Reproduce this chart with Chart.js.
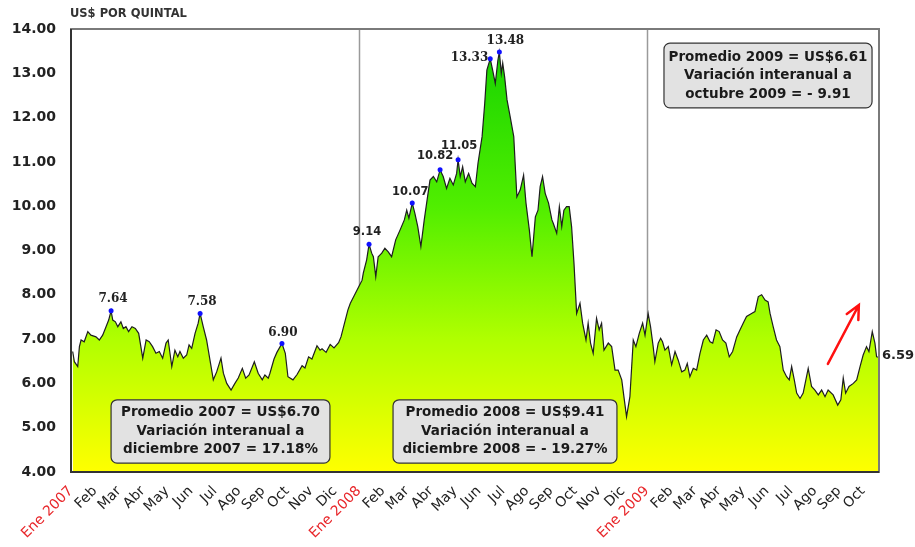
<!DOCTYPE html>
<html>
<head>
<meta charset="utf-8">
<script src="https://cdn.jsdelivr.net/npm/chart.js@4"></script>
<style>
  html, body { margin: 0; padding: 0; background: #fff; }
  #wrap { width: 915px; height: 547px; }
</style>
</head>
<body>
<div id="wrap"><canvas id="precioChart" width="915" height="547"></canvas></div>
<script>
// Precio diario, US$ por quintal (ene 2007 - oct 2009)
// meses: posicion en meses contados desde ene 2007
const meses = [
  0.07, 0.14, 0.28, 0.35, 0.42, 0.55, 0.70, 0.83, 1.04, 1.18, 1.32, 1.46, 1.57, 1.67, 1.74, 1.85, 1.95,
  2.08, 2.18, 2.29, 2.40, 2.54, 2.68, 2.82, 2.99, 3.13, 3.26, 3.40, 3.54, 3.68, 3.82, 3.96,
  4.05, 4.20, 4.33, 4.45, 4.54, 4.68, 4.82, 4.92, 5.03, 5.17, 5.30, 5.38, 5.51, 5.65, 5.79, 5.93,
  6.07, 6.25, 6.35, 6.49, 6.67, 6.83, 6.97, 7.14, 7.28, 7.42, 7.64, 7.80, 7.97,
  8.08, 8.22, 8.29, 8.46, 8.58, 8.79, 8.93, 9.04, 9.25, 9.42, 9.63, 9.75, 9.90,
  10.04, 10.25, 10.38, 10.46, 10.63, 10.80, 10.96, 11.15, 11.25, 11.36, 11.54, 11.64, 11.82, 11.99,
  12.13, 12.18, 12.32, 12.42, 12.53, 12.60, 12.70, 12.80, 12.95, 13.08, 13.22, 13.36, 13.53, 13.71, 13.89, 13.99,
  14.08, 14.22, 14.33, 14.45, 14.58, 14.72, 14.86, 14.96, 15.10, 15.24, 15.38, 15.51, 15.65, 15.79, 15.93,
  16.07, 16.13, 16.22, 16.32, 16.43, 16.57, 16.71, 16.85, 16.96, 17.13, 17.24, 17.33, 17.47, 17.57, 17.68, 17.79, 17.85, 17.93, 17.99,
  18.07, 18.17, 18.30, 18.45, 18.58, 18.72, 18.86, 18.96, 19.10, 19.21, 19.35, 19.46, 19.55, 19.65, 19.76, 19.90,
  20.04, 20.10, 20.24, 20.35, 20.45, 20.54, 20.65, 20.76, 20.86, 20.96, 21.07, 21.21, 21.32, 21.46, 21.55, 21.65, 21.76, 21.90,
  22.01, 22.11, 22.21, 22.39, 22.53, 22.67, 22.80, 22.95, 23.04, 23.15, 23.29, 23.43, 23.54, 23.68, 23.82, 23.92,
  24.05, 24.15, 24.26, 24.33, 24.47, 24.57, 24.65, 24.75, 24.89, 25.03, 25.17, 25.30, 25.45, 25.58, 25.68, 25.79, 25.93,
  26.07, 26.21, 26.35, 26.49, 26.63, 26.74, 26.88, 27.01, 27.15, 27.29, 27.43, 27.57, 27.74, 27.88,
  28.01, 28.15, 28.36, 28.50, 28.64, 28.78, 28.92, 29.05, 29.13, 29.26, 29.40, 29.54, 29.68, 29.82, 29.93,
  30.03, 30.14, 30.24, 30.38, 30.51, 30.72, 30.86, 31.00, 31.14, 31.28, 31.42, 31.55, 31.76, 31.95,
  32.08, 32.18, 32.28, 32.42, 32.60, 32.74, 32.88, 33.01, 33.15, 33.25, 33.39, 33.50, 33.57, 33.67
];
const precios = [
  6.72, 6.49, 6.38, 6.83, 6.98, 6.94, 7.17, 7.09, 7.05, 6.98, 7.09, 7.28, 7.43, 7.64, 7.43, 7.39, 7.28,
  7.39, 7.24, 7.28, 7.17, 7.28, 7.24, 7.13, 6.57, 6.98, 6.94, 6.83, 6.68, 6.72, 6.57, 6.91,
  6.98, 6.38, 6.75, 6.60, 6.72, 6.57, 6.64, 6.87, 6.79, 7.13, 7.36, 7.58, 7.28, 6.98, 6.53, 6.08,
  6.26, 6.57, 6.23, 6.00, 5.85, 6.00, 6.12, 6.34, 6.12, 6.19, 6.49, 6.23, 6.08,
  6.19, 6.12, 6.23, 6.55, 6.70, 6.90, 6.68, 6.15, 6.08, 6.20, 6.40, 6.35, 6.60,
  6.55, 6.85, 6.75, 6.78, 6.70, 6.88, 6.80, 6.92, 7.05, 7.28, 7.66, 7.81, 8.00, 8.18,
  8.33, 8.49, 8.79, 9.14, 8.94, 8.86, 8.41, 8.86, 8.94, 9.05, 8.97, 8.86, 9.24, 9.46, 9.69, 9.91,
  9.73, 10.07, 9.84, 9.54, 9.09, 9.69, 10.22, 10.59, 10.67, 10.55, 10.82, 10.67, 10.40, 10.63, 10.48,
  10.74, 11.05, 10.67, 10.89, 10.55, 10.74, 10.52, 10.44, 10.97, 11.57, 12.32, 13.07, 13.33, 13.07, 12.77, 13.30, 13.48, 13.00, 13.23,
  12.92, 12.40, 12.02, 11.57, 10.21, 10.37, 10.70, 10.07, 9.46, 8.86, 9.76, 9.91, 10.44, 10.67, 10.29, 10.07,
  9.69, 9.61, 9.39, 9.99, 9.54, 9.91, 9.99, 9.99, 9.54, 8.71, 7.58, 7.81, 7.36, 6.98, 7.36, 6.91, 6.68, 7.47,
  7.21, 7.36, 6.75, 6.91, 6.83, 6.30, 6.30, 6.08, 5.70, 5.25, 5.70, 6.98, 6.83, 7.13, 7.36, 7.09,
  7.58, 7.28, 6.83, 6.49, 6.91, 7.02, 6.94, 6.75, 6.83, 6.42, 6.72, 6.53, 6.26, 6.30, 6.45, 6.15, 6.34,
  6.30, 6.68, 6.98, 7.09, 6.94, 6.91, 7.21, 7.17, 6.98, 6.91, 6.60, 6.72, 7.05, 7.21,
  7.36, 7.51, 7.58, 7.62, 7.96, 8.00, 7.88, 7.84, 7.58, 7.28, 6.98, 6.83, 6.30, 6.15, 6.08,
  6.38, 6.08, 5.78, 5.66, 5.78, 6.34, 5.93, 5.85, 5.74, 5.85, 5.70, 5.85, 5.74, 5.51,
  5.63, 6.12, 5.78, 5.93, 6.00, 6.08, 6.38, 6.64, 6.83, 6.72, 7.17, 6.91, 6.60, 6.59
];

// Valores maximos destacados
const picos = [7.64, 7.58, 6.90, 9.14, 10.07, 10.82, 11.05, 13.33, 13.48];

const etiquetasMes = [
  'Ene 2007', 'Feb', 'Mar', 'Abr', 'May', 'Jun', 'Jul', 'Ago', 'Sep', 'Oct', 'Nov', 'Dic',
  'Ene 2008', 'Feb', 'Mar', 'Abr', 'May', 'Jun', 'Jul', 'Ago', 'Sep', 'Oct', 'Nov', 'Dic',
  'Ene 2009', 'Feb', 'Mar', 'Abr', 'May', 'Jun', 'Jul', 'Ago', 'Sep', 'Oct'
];
const ticksY = [4, 5, 6, 7, 8, 9, 10, 11, 12, 13, 14];

const notas = [
  { x0: 1.67, x1: 10.79, y0: 5.63, y1: 4.20,
    lineas: ['Promedio 2007 = US$6.70', 'Variación interanual a', 'diciembre 2007 = 17.18%'] },
  { x0: 13.42, x1: 22.75, y0: 5.63, y1: 4.20,
    lineas: ['Promedio 2008 = US$9.41', 'Variación interanual a', 'diciembre 2008 = - 19.27%'] },
  { x0: 24.71, x1: 33.38, y0: 13.68, y1: 12.22,
    lineas: ['Promedio 2009 = US$6.61', 'Variación interanual a', 'octubre 2009 = - 9.91'] }
];

const indicesPico = picos.map(v => precios.indexOf(v));

// offsets of peak labels relative to their dot
const serif = 'bold 12px "DejaVu Serif"';
const sans = 'bold 11.5px "DejaVu Sans"';
const posPico = [
  { dx: 2, dy: -12, font: serif, align: 'center' },
  { dx: 2, dy: -12, font: serif, align: 'center' },
  { dx: 1, dy: -11, font: serif, align: 'center' },
  { dx: -2, dy: -12, font: sans, align: 'center' },
  { dx: -2, dy: -11, font: sans, align: 'center' },
  { dx: -5, dy: -14, font: sans, align: 'center' },
  { dx: 1, dy: -14, font: sans, align: 'center' },
  { dx: -2, dy: -1, font: serif, align: 'right' },
  { dx: 6, dy: -11, font: serif, align: 'center' }
];

const decoracion = {
  id: 'decoracion',
  beforeDatasetsDraw(chart) {
    const { ctx, chartArea: ca, scales: { x } } = chart;
    ctx.save();
    ctx.strokeStyle = '#9a9a9a';
    ctx.lineWidth = 1.5;
    [12, 24].forEach(m => {
      const px = Math.round(x.getPixelForValue(m)) + 0.5;
      ctx.beginPath();
      ctx.moveTo(px, ca.top);
      ctx.lineTo(px, ca.bottom);
      ctx.stroke();
    });
    ctx.restore();
  },
  afterDatasetsDraw(chart) {
    const { ctx, chartArea: ca, scales: { x, y } } = chart;
    const meta = chart.getDatasetMeta(0);
    ctx.save();

    // plot border
    ctx.lineWidth = 2;
    ctx.strokeStyle = '#7a7a7a';
    ctx.strokeRect(ca.left, ca.top, ca.right - ca.left, ca.bottom - ca.top);
    ctx.strokeStyle = '#333';
    ctx.beginPath();
    ctx.moveTo(ca.left, ca.top);
    ctx.lineTo(ca.left, ca.bottom);
    ctx.lineTo(ca.right, ca.bottom);
    ctx.stroke();

    // peak labels
    ctx.fillStyle = '#222';
    ctx.textBaseline = 'middle';
    indicesPico.forEach((idx, i) => {
      const pt = meta.data[idx];
      const p = posPico[i];
      ctx.font = p.font;
      ctx.textAlign = p.align;
      ctx.fillText(picos[i].toFixed(2), pt.x + p.dx, pt.y + p.dy);
    });

    // last value
    const ult = meta.data[meta.data.length - 1];
    ctx.font = 'bold 13px "DejaVu Sans"';
    ctx.textAlign = 'left';
    ctx.fillText(precios[precios.length - 1].toFixed(2), ca.right + 3, ult.y - 2);

    // notes
    notas.forEach(n => {
      const l = x.getPixelForValue(n.x0), r = x.getPixelForValue(n.x1);
      const t = y.getPixelForValue(n.y0), b = y.getPixelForValue(n.y1);
      ctx.beginPath();
      ctx.roundRect(l, t, r - l, b - t, 6);
      ctx.fillStyle = '#e2e2e2';
      ctx.fill();
      ctx.lineWidth = 1.2;
      ctx.strokeStyle = '#333';
      ctx.stroke();
      ctx.fillStyle = '#1a1a1a';
      ctx.font = 'bold 13.5px "DejaVu Sans"';
      ctx.textAlign = 'center';
      const cx = (l + r) / 2, cy = (t + b) / 2;
      n.lineas.forEach((s, k) => ctx.fillText(s, cx, cy + (k - 1) * 18.5));
    });

    // red arrow
    const ax0 = x.getPixelForValue(31.54), ay0 = y.getPixelForValue(6.44);
    const ax1 = x.getPixelForValue(32.83), ay1 = y.getPixelForValue(7.77);
    const ang = Math.atan2(ay1 - ay0, ax1 - ax0);
    ctx.strokeStyle = '#ff1010';
    ctx.lineWidth = 2.5;
    ctx.lineCap = 'round';
    ctx.beginPath();
    ctx.moveTo(ax0, ay0);
    ctx.lineTo(ax1, ay1);
    ctx.moveTo(ax1 - 15 * Math.cos(ang - 0.45), ay1 - 15 * Math.sin(ang - 0.45));
    ctx.lineTo(ax1, ay1);
    ctx.lineTo(ax1 - 15 * Math.cos(ang + 0.45), ay1 - 15 * Math.sin(ang + 0.45));
    ctx.stroke();

    // axis caption
    ctx.fillStyle = '#333';
    ctx.font = 'bold 11.5px "DejaVu Sans"';
    ctx.textAlign = 'left';
    ctx.fillText('US$ POR QUINTAL', ca.left - 1, 14);
    ctx.restore();
  }
};

new Chart(document.getElementById('precioChart'), {
  type: 'line',
  data: {
    datasets: [{
      data: meses.map((m, i) => ({ x: m, y: precios[i] })),
      borderColor: '#1e1e1e',
      borderWidth: 1.2,
      tension: 0,
      fill: 'start',
      backgroundColor: (c) => {
        const ca = c.chart.chartArea;
        if (!ca) return '#aaff00';
        const g = c.chart.ctx.createLinearGradient(0, ca.top, 0, ca.bottom);
        g.addColorStop(0, '#10d000');
        g.addColorStop(0.4, '#50ee00');
        g.addColorStop(0.7, '#b0ff00');
        g.addColorStop(1, '#ffff00');
        return g;
      },
      pointRadius: (c) => indicesPico.includes(c.dataIndex) ? 2.5 : 0,
      pointBackgroundColor: '#1010ff',
      pointBorderWidth: 0
    }]
  },
  options: {
    responsive: false,
    animation: false,
    layout: { padding: { top: 29, right: 36, left: 0, bottom: 0 } },
    plugins: { legend: { display: false }, tooltip: { enabled: false } },
    scales: {
      x: {
        type: 'linear',
        min: 0,
        max: meses[meses.length - 1],
        afterBuildTicks: (axis) => { axis.ticks = etiquetasMes.map((_, i) => ({ value: i })); },
        afterFit: (axis) => { axis.height = 75; },
        grid: { display: false },
        border: { display: false },
        ticks: {
          autoSkip: false,
          minRotation: 45,
          maxRotation: 45,
          padding: 3,
          font: { family: 'DejaVu Sans', size: 14 },
          color: (c) => etiquetasMes[c.index].startsWith('Ene') ? '#e8262a' : '#222',
          callback: (v) => etiquetasMes[v]
        }
      },
      y: {
        min: 4,
        max: 14,
        afterBuildTicks: (axis) => { axis.ticks = ticksY.map(v => ({ value: v })); },
        afterFit: (axis) => { axis.width = 71; },
        grid: { display: false },
        border: { display: false },
        ticks: {
          padding: 7,
          font: { family: 'DejaVu Sans', size: 14, weight: 'bold' },
          color: '#222',
          callback: (v) => v.toFixed(2)
        }
      }
    }
  },
  plugins: [decoracion]
});
</script>
</body>
</html>
